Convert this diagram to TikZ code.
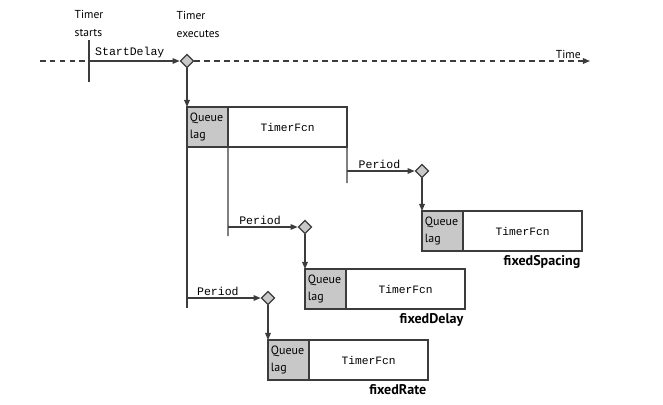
\documentclass[tikz,border=0pt]{standalone}
\usepackage{fontspec}
\setmainfont{PT Sans}
\setmonofont{Liberation Mono}
\usetikzlibrary{positioning,arrows.meta,shapes.geometric}
\definecolor{inkgray}{RGB}{60,60,60}
\definecolor{lagfill}{RGB}{200,200,200}
\tikzset{
  guide/.style={draw=inkgray, line width=0.85pt},
  flow/.style={guide, -{Triangle[length=5pt,width=4pt]}},
  timeaxis/.style={guide, dash pattern=on 4pt off 3pt},
  fire/.style={diamond, draw=inkgray, fill=lagfill, line width=0.85pt, minimum size=3.4mm, inner sep=0pt},
  lagcell/.style={draw=inkgray, fill=lagfill, line width=0.85pt, minimum width=1.025cm, minimum height=1cm,
    outer sep=0pt, inner sep=0pt, align=left, text width=0.88cm, font=\fontsize{8.5}{12}\selectfont},
  fcncell/.style={draw=inkgray, fill=white, line width=0.85pt, minimum width=2.975cm, minimum height=1cm,
    outer sep=0pt, font=\ttfamily\fontsize{8}{10}\selectfont},
  note/.style={align=left, inner sep=1pt, font=\fontsize{8.2}{12.8}\selectfont},
  code/.style={inner sep=1.5pt, font=\ttfamily\fontsize{8.2}{10}\selectfont},
  modename/.style={anchor=north east, inner sep=1pt, font=\bfseries\fontsize{10}{12}\selectfont}
}
\begin{document}
\begin{tikzpicture}[x=0.025cm, y=-0.025cm]
  \useasboundingbox (0,0) rectangle (663,404);

  % Time axis
  \coordinate (axisL) at (40,61);
  \coordinate (axisR) at (590,61);
  \coordinate (start) at (89,61);
  \coordinate (tickT) at (89,40);
  \coordinate (tickB) at (89,82);
  \node[fire] (exec) at (187,61) {};
  \draw[timeaxis] (axisL) -- (start);
  \draw[timeaxis, -{Triangle[length=5pt,width=4pt]}] (exec) -- (axisR)
    node[note, pos=0.945, above] (timelbl) {Time};
  \draw[guide] (tickT) -- (tickB);
  \draw[flow] (start) -- node[code, above, pos=0.45] (delaylbl) {StartDelay} (exec);
  \node[note, above=1pt of tickT] (startlbl) {Timer\\starts};
  \node[note, anchor=south west] (execlbl) at (175,39) {Timer\\executes};

  % First run
  \node[lagcell, anchor=north west] (lag1) at (187,107) {Queue\\lag};
  \node[fcncell, right=0pt of lag1] (fcn1) {TimerFcn};
  \draw[flow] (exec) -- (lag1.north west);

  % Where each mode counts the period from
  \coordinate (rateEnd) at (187,308);
  \coordinate (delayEnd) at (228,236);
  \coordinate (spacEnd) at (347,183);
  \draw[guide] (lag1.south west) -- (rateEnd);
  \draw[guide] (lag1.south east) -- (delayEnd);
  \draw[guide] (fcn1.south east) -- (spacEnd);

  % Next executions
  \node[fire] (spacFire) at (422,171) {};
  \node[fire] (delayFire) at (305,227) {};
  \node[fire] (rateFire) at (268,298) {};
  \draw[flow] (fcn1.south east |- spacFire) -- node[code, above, pos=0.48] (spacPer) {Period} (spacFire);
  \draw[flow] (lag1.south east |- delayFire) -- node[code, above, pos=0.46] (delayPer) {Period} (delayFire);
  \draw[flow] (lag1.south west |- rateFire) -- node[code, above, pos=0.42] (ratePer) {Period} (rateFire);

  % fixedSpacing
  \node[lagcell, anchor=north west] (lagS) at (422,211) {Queue\\lag};
  \node[fcncell, right=0pt of lagS] (fcnS) {TimerFcn};
  \draw[flow] (spacFire) -- (lagS.north west);
  \node[modename] (spacName) at ([yshift=-2pt]fcnS.south east) {fixedSpacing};

  % fixedDelay
  \node[lagcell, anchor=north west] (lagD) at (305,269) {Queue\\lag};
  \node[fcncell, right=0pt of lagD] (fcnD) {TimerFcn};
  \draw[flow] (delayFire) -- (lagD.north west);
  \node[modename] (delayName) at ([yshift=-2pt]fcnD.south east) {fixedDelay};

  % fixedRate
  \node[lagcell, anchor=north west] (lagR) at (268,340) {Queue\\lag};
  \node[fcncell, right=0pt of lagR] (fcnR) {TimerFcn};
  \draw[flow] (rateFire) -- (lagR.north west);
  \node[modename] (rateName) at ([yshift=-2pt]fcnR.south east) {fixedRate};
\end{tikzpicture}
\end{document}
